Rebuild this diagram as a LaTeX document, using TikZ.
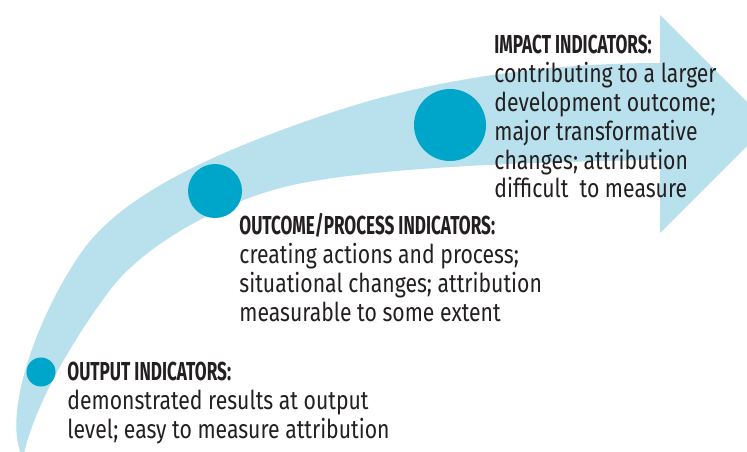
\documentclass[tikz,border=0pt]{standalone}
\usepackage{fontspec}
\setmainfont[FakeStretch=0.815]{Fira Sans}
\newfontfamily\headfont[FakeStretch=0.66]{Fira Sans}
\usepackage{xcolor}
\definecolor{colorb9e1ed}{HTML}{B9E1ED}
\definecolor{color00a6c9}{HTML}{00A6C9}
\definecolor{color231f20}{HTML}{231F20}

\begin{document}
\begin{tikzpicture}
    [x=0.5pt, y=-0.5pt,  % one unit = one pixel of the page, y down
     bullet/.style={circle, fill=color00a6c9, inner sep=0pt},
     label_text/.style={anchor=north west, inner sep=0pt, align=left, text=color231f20, font=\fontsize{13}{14.4}\selectfont},
    ]

\useasboundingbox (0,0) rectangle (747,451);
\clip (0,0) rectangle (747,451);

% the swoosh
\fill[colorb9e1ed] (23,458) .. controls (0,415) and (40,310) .. (83,250)
    .. controls (125,192) and (220,150) .. (330,113)
    .. controls (440,76) and (560,63) .. (660,63)
    -- (660,15) -- (769,124) -- (660,233) -- (660,160)
    .. controls (500,162) and (340,170) .. (273,190)
    .. controls (206,210) and (140,250) .. (110,290)
    .. controls (80,330) and (35,400) .. (23,458) -- cycle;

\node[bullet, minimum size=14.5pt] (dot_output) at (41,372) {};
\node[bullet, minimum size=27pt] (dot_outcome) at (215,191) {};
\node[bullet, minimum size=36pt] (dot_impact) at (450,125) {};

\node[label_text] (node_output) at (67,362) {{\headfont\bfseries OUTPUT INDICATORS:}\\demonstrated results at output\\level; easy to measure attribution};
\node[label_text] (node_outcome) at (239,213) {{\headfont\bfseries OUTCOME/PROCESS INDICATORS:}\\creating actions and process;\\situational changes; attribution\\measurable to some extent};
\node[label_text] (node_impact) at (494,35) {{\headfont\bfseries IMPACT INDICATORS:}\\contributing to a larger\\development outcome;\\major transformative\\changes; attribution\\difficult\ \ to measure};

\end{tikzpicture}
\end{document}
